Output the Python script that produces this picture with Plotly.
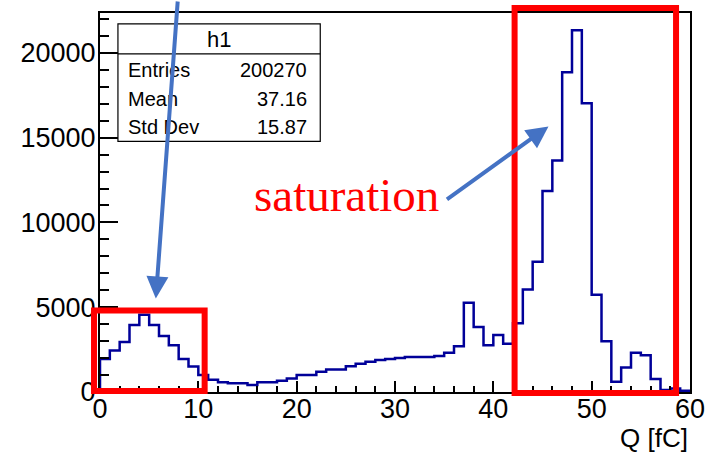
import numpy as np
import plotly.graph_objects as go

# Charge spectrum, 1 fC bins from 0 to 60 fC
Q_MIN, Q_MAX, BIN_WIDTH = 0, 60, 1
counts = [
    1950, 2450, 2950, 3950, 4550, 3950, 3300, 2750, 1950, 1500,
    1000, 720, 580, 510, 510, 410, 570, 570, 660, 800,
    1000, 1000, 1190, 1330, 1330, 1520, 1660, 1780, 1880, 1940,
    2010, 2070, 2070, 2070, 2130, 2310, 2700, 5260, 3830, 2760,
    3360, 2840, 4050, 6040, 7680, 11850, 13650, 18850, 21330, 17030,
    5730, 2990, 600, 1450, 2310, 2170, 760, 120, 200, 80,
]

hist_name = "h1"
stat_labels = ["Entries", "Mean", "Std Dev"]
stat_values = ["200270", "37.16", "15.87"]

x_title = "Q [fC]"
y_max = 22350
callout_text = "saturation"

# figure geometry (pixels)
W, H = 716, 453
ML, MR, MT, MB = 100, 24, 11, 61
PW, PH = W - ML - MR, H - MT - MB


def px(xp):
    return (xp - ML) / PW


def py(yp):
    return (H - MB - yp) / PH


edges = np.arange(Q_MIN, Q_MAX + BIN_WIDTH, BIN_WIDTH)
xs = np.concatenate([[edges[0]], edges])
ys = np.concatenate([[0], counts, [counts[-1]]])

fig = go.Figure()
fig.add_trace(go.Scatter(
    x=xs, y=ys, mode="lines", line_shape="hv",
    line=dict(color="#000099", width=2.5), hoverinfo="skip", showlegend=False,
))

tick_font = dict(family="Liberation Sans, Arial, sans-serif", size=27, color="black")
fig.update_layout(
    width=W, height=H,
    margin=dict(l=ML, r=MR, t=MT, b=MB),
    paper_bgcolor="white", plot_bgcolor="white",
    showlegend=False,
    xaxis=dict(
        range=[Q_MIN, Q_MAX], tickmode="linear", tick0=0, dtick=10,
        ticks="inside", ticklen=11, tickwidth=1.5, tickcolor="black",
        minor=dict(dtick=2, ticks="inside", ticklen=6, tickwidth=1.5, tickcolor="black"),
        showline=True, linecolor="black", linewidth=2, mirror=True,
        showgrid=False, zeroline=False, tickfont=tick_font, ticklabelstandoff=-8,
        tickformat="d",
    ),
    yaxis=dict(
        range=[0, y_max], tickmode="linear", tick0=0, dtick=5000,
        ticks="inside", ticklen=18, tickwidth=1.5, tickcolor="black",
        minor=dict(dtick=1000, ticks="inside", ticklen=9, tickwidth=1.5, tickcolor="black"),
        showline=True, linecolor="black", linewidth=2, mirror=True,
        showgrid=False, zeroline=False, tickfont=tick_font, ticklabelstandoff=-3,
        tickformat="d",
    ),
)

# axis title, right aligned under the frame
fig.add_annotation(
    text=x_title, xref="paper", yref="paper", x=1, y=py(438),
    xanchor="right", yanchor="middle", showarrow=False,
    font=dict(family="Liberation Sans, Arial, sans-serif", size=26, color="black"),
)

# statistics box
box_l, box_r, box_t, box_hdr, box_b = 118, 321, 22, 52, 140
fig.add_shape(type="rect", xref="paper", yref="paper",
              x0=px(box_l), x1=px(box_r), y0=py(box_b), y1=py(box_t),
              line=dict(color="black", width=1.2), fillcolor="white", layer="above")
fig.add_shape(type="line", xref="paper", yref="paper",
              x0=px(box_l), x1=px(box_r), y0=py(box_hdr), y1=py(box_hdr),
              line=dict(color="black", width=1.2), layer="above")
stat_font = dict(family="Liberation Sans, Arial, sans-serif", size=20, color="black")
fig.add_annotation(text=hist_name, xref="paper", yref="paper",
                   x=px((box_l + box_r) / 2), y=py(38), xanchor="center", yanchor="middle",
                   showarrow=False, font=dict(stat_font, size=22))
for i, (lab, val) in enumerate(zip(stat_labels, stat_values)):
    yrow = py(68 + 29 * i)
    fig.add_annotation(text=lab, xref="paper", yref="paper", x=px(126), y=yrow,
                       xanchor="left", yanchor="middle", showarrow=False, font=stat_font)
    fig.add_annotation(text=val, xref="paper", yref="paper", x=px(310), y=yrow,
                       xanchor="right", yanchor="middle", showarrow=False, font=stat_font)

# highlighted regions
red = "#FF0000"
for (l, t, r, b) in [(94, 310, 205, 391), (516, 6, 678, 393)]:
    fig.add_shape(type="rect", xref="paper", yref="paper",
                  x0=px(l), x1=px(r), y0=py(b), y1=py(t),
                  line=dict(color=red, width=6), fillcolor="rgba(0,0,0,0)", layer="above")

# callout label and arrows
fig.add_annotation(text=callout_text, xref="paper", yref="paper", x=px(253), y=py(194),
                   xanchor="left", yanchor="middle", showarrow=False,
                   font=dict(family="Liberation Serif, Times New Roman, serif", size=47, color=red))

arrow_blue = "#4472C4"
for (tip_x, tip_y, tail_x, tail_y) in [(156, 298, 178, -5), (550, 125, 447, 199)]:
    fig.add_annotation(text="", xref="paper", yref="paper", x=px(tip_x), y=py(tip_y),
                       ax=tail_x - tip_x, ay=tail_y - tip_y, showarrow=True,
                       arrowhead=2, arrowsize=1.1, arrowwidth=4, arrowcolor=arrow_blue,
                       standoff=0, startstandoff=0)

fig.write_html("out.html")
